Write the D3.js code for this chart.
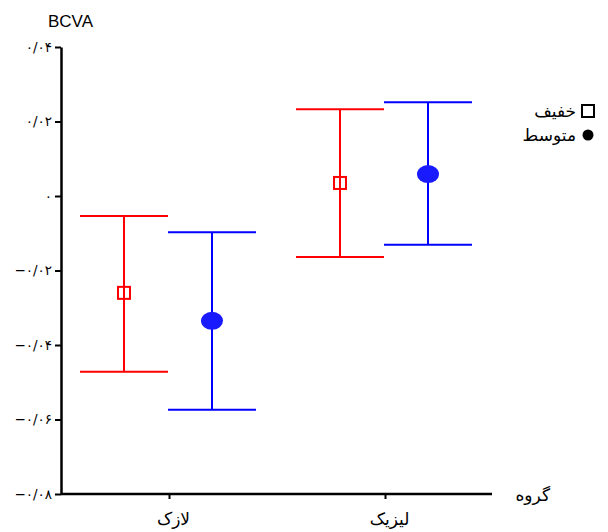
<!DOCTYPE html>
<html>
<head>
<meta charset="utf-8">
<script src="https://cdn.jsdelivr.net/npm/d3@7"></script>
<style>
  body { margin: 0; background: #fff; }
  svg { display: block; }
</style>
</head>
<body>
<script>
// groups on the x axis
var groups = ["لازک", "لیزیک"];
// series: mild (red, square) and moderate (blue, dot)
var seriesNames = ["خفیف", "متوسط"];
var mildMean = [-0.026, 0.0035];
var mildLow = [-0.0472, -0.0164];
var mildHigh = [-0.0054, 0.0233];
var modMean = [-0.0335, 0.0059];
var modLow = [-0.0574, -0.0131];
var modHigh = [-0.0097, 0.0252];
var yTicks = [-0.08, -0.06, -0.04, -0.02, 0, 0.02, 0.04];
var yTickLabels = ["−۰/۰۸", "−۰/۰۶", "−۰/۰۴", "−۰/۰۲", "۰", "۰/۰۲", "۰/۰۴"];

var width = 608, height = 532;
var margin = {top: 47, right: 115, bottom: 38, left: 61};

var svg = d3.select("body").append("svg")
  .attr("width", width)
  .attr("height", height);

var x = d3.scalePoint()
  .domain(groups)
  .range([margin.left, width - margin.right])
  .padding(0.5);

var y = d3.scaleLinear()
  .domain([-0.08, 0.04])
  .range([height - margin.bottom, margin.top]);

// cap half width
var capW = 44;

var series = [
  {name: seriesNames[0], color: "#ff0000", mean: mildMean, low: mildLow, high: mildHigh, dx: -45},
  {name: seriesNames[1], color: "#0000ff", mean: modMean, low: modLow, high: modHigh, dx: 43}
];

series.forEach(function (s, si) {
  var g = svg.append("g");
  groups.forEach(function (grp, i) {
    var cx = x(grp) + s.dx;
    g.append("line")
      .attr("x1", cx).attr("x2", cx)
      .attr("y1", y(s.high[i])).attr("y2", y(s.low[i]))
      .attr("stroke", s.color).attr("stroke-width", 2);
    [s.high[i], s.low[i]].forEach(function (v) {
      g.append("line")
        .attr("x1", cx - capW).attr("x2", cx + capW)
        .attr("y1", y(v)).attr("y2", y(v))
        .attr("stroke", s.color).attr("stroke-width", 2);
    });
    if (si == 0) {
      g.append("rect")
        .attr("x", cx - 6).attr("y", y(s.mean[i]) - 6)
        .attr("width", 12).attr("height", 12)
        .attr("fill", "none")
        .attr("stroke", s.color).attr("stroke-width", 2);
    } else {
      g.append("ellipse")
        .attr("cx", cx).attr("cy", y(s.mean[i]))
        .attr("rx", 11).attr("ry", 9)
        .attr("fill", "#1a1aff");
    }
  });
});

// y axis
var yAxis = d3.axisLeft(y)
  .tickValues(yTicks)
  .tickSize(6)
  .tickSizeOuter(0)
  .tickFormat(function (d, i) { return yTickLabels[i]; });

var ya = svg.append("g")
  .attr("transform", "translate(" + margin.left + ",0)")
  .call(yAxis);
ya.select(".domain").attr("stroke-width", 2.5);
ya.selectAll(".tick line").attr("stroke-width", 2);
ya.selectAll(".tick text")
  .attr("x", -9)
  .style("font-family", "DejaVu Sans")
  .style("font-size", "13.5px")
  .style("letter-spacing", "0.5px");

// x axis
var xAxis = d3.axisBottom(x)
  .tickSize(5)
  .tickSizeOuter(0);

var xa = svg.append("g")
  .attr("transform", "translate(0," + (height - margin.bottom) + ")")
  .call(xAxis);
xa.select(".domain")
  .attr("d", "M" + margin.left + ",0H" + (width - margin.right - 1))
  .attr("stroke-width", 2.5);
xa.selectAll(".tick line").attr("stroke-width", 2);
xa.selectAll(".tick text")
  .attr("y", 19)
  .attr("x", 4)
  .style("font-family", "DejaVu Sans")
  .style("font-size", "17px");

// axis titles
svg.append("text")
  .attr("x", 48).attr("y", 27)
  .style("font-family", "Liberation Sans")
  .style("font-size", "17px")
  .text("BCVA");

svg.append("text")
  .attr("x", 550).attr("y", 501)
  .attr("text-anchor", "end")
  .style("font-family", "DejaVu Sans")
  .style("font-size", "17px")
  .text("گروه");

// legend
var legend = svg.append("g");
legend.append("rect")
  .attr("x", 582).attr("y", 105)
  .attr("width", 12).attr("height", 12)
  .attr("fill", "none").attr("stroke", "#000").attr("stroke-width", 2);
legend.append("circle")
  .attr("cx", 588).attr("cy", 135).attr("r", 5.5)
  .attr("fill", "#000");
legend.selectAll("text.lg")
  .data(seriesNames)
  .enter().append("text")
  .attr("class", "lg")
  .attr("x", 576)
  .attr("y", function (d, i) { return 117 + i * 24; })
  .attr("text-anchor", "end")
  .style("font-family", "DejaVu Sans")
  .style("font-size", "17px")
  .text(function (d) { return d; });
</script>
</body>
</html>
